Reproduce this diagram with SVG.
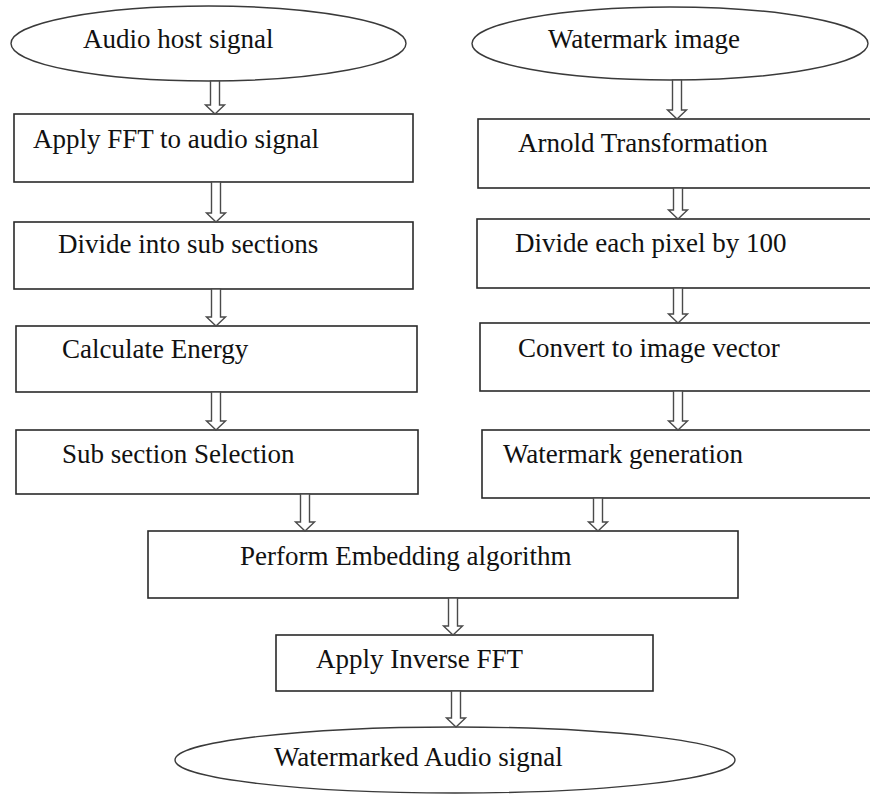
<svg xmlns="http://www.w3.org/2000/svg" width="870" height="794" viewBox="0 0 870 794">
<style>
.box{fill:#fff;stroke:#2a2a2a;stroke-width:1.6}
.ell{fill:#fff;stroke:#3a3a3a;stroke-width:1.4}
.arr{fill:#fff;stroke:#4a4a4a;stroke-width:1.4;stroke-linejoin:miter}
.t{font-family:"Liberation Serif","Times New Roman",serif;font-size:27px;fill:#111}
</style>
<rect x="0" y="0" width="870" height="794" fill="#fff"/>
<g id="n-audio-host"><ellipse class="ell" cx="208.5" cy="43.5" rx="197.5" ry="37.5"/><text class="t" x="83" y="48">Audio host signal</text></g>
<g id="n-watermark-image"><ellipse class="ell" cx="670" cy="43.5" rx="198" ry="36.5"/><text class="t" x="548" y="48">Watermark image</text></g>
<g id="n-fft"><rect class="box" x="14" y="114" width="399" height="68"/><text class="t" x="33" y="148">Apply FFT to audio signal</text></g>
<g id="n-divide-sub"><rect class="box" x="14" y="222" width="399" height="67"/><text class="t" x="58" y="253">Divide into sub sections</text></g>
<g id="n-energy"><rect class="box" x="16" y="326" width="401" height="66"/><text class="t" x="62" y="358">Calculate Energy</text></g>
<g id="n-subsel"><rect class="box" x="16" y="430" width="402" height="64"/><text class="t" x="62" y="463">Sub section Selection</text></g>
<g id="n-arnold"><rect class="box" x="478" y="119" width="410" height="69"/><text class="t" x="518" y="152">Arnold Transformation</text></g>
<g id="n-divide-pixel"><rect class="box" x="477" y="219" width="410" height="69"/><text class="t" x="515" y="252">Divide each pixel by 100</text></g>
<g id="n-vector"><rect class="box" x="480" y="323" width="410" height="68"/><text class="t" x="518" y="357">Convert to image vector</text></g>
<g id="n-wmgen"><rect class="box" x="482" y="430" width="410" height="68"/><text class="t" x="503" y="463">Watermark generation</text></g>
<g id="n-embed"><rect class="box" x="148" y="531" width="590" height="67"/><text class="t" x="240" y="565">Perform Embedding algorithm</text></g>
<g id="n-ifft"><rect class="box" x="276" y="635" width="377" height="56"/><text class="t" x="316" y="668">Apply Inverse FFT</text></g>
<g id="n-output"><ellipse class="ell" cx="455" cy="760" rx="280" ry="33"/><text class="t" x="274" y="766">Watermarked Audio signal</text></g>
<g id="connectors">
<polygon class="arr" points="210.5,81 219.5,81 219.5,105 224.5,105 215,114 205.5,105 210.5,105"/>
<polygon class="arr" points="211.5,182 220.5,182 220.5,213 225.5,213 216,222 206.5,213 211.5,213"/>
<polygon class="arr" points="211.5,289 220.5,289 220.5,317 225.5,317 216,326 206.5,317 211.5,317"/>
<polygon class="arr" points="211.5,392 220.5,392 220.5,421 225.5,421 216,430 206.5,421 211.5,421"/>
<polygon class="arr" points="672.5,80 681.5,80 681.5,110 686.5,110 677,119 667.5,110 672.5,110"/>
<polygon class="arr" points="673.5,188 682.5,188 682.5,210 687.5,210 678,219 668.5,210 673.5,210"/>
<polygon class="arr" points="673.5,288 682.5,288 682.5,314 687.5,314 678,323 668.5,314 673.5,314"/>
<polygon class="arr" points="673.5,391 682.5,391 682.5,421 687.5,421 678,430 668.5,421 673.5,421"/>
<polygon class="arr" points="300.5,494 309.5,494 309.5,522 314.5,522 305,531 295.5,522 300.5,522"/>
<polygon class="arr" points="593.5,498 602.5,498 602.5,522 607.5,522 598,531 588.5,522 593.5,522"/>
<polygon class="arr" points="448.5,598 457.5,598 457.5,626 462.5,626 453,635 443.5,626 448.5,626"/>
<polygon class="arr" points="451.5,691 460.5,691 460.5,718 465.5,718 456,727 446.5,718 451.5,718"/>
</g>
</svg>
